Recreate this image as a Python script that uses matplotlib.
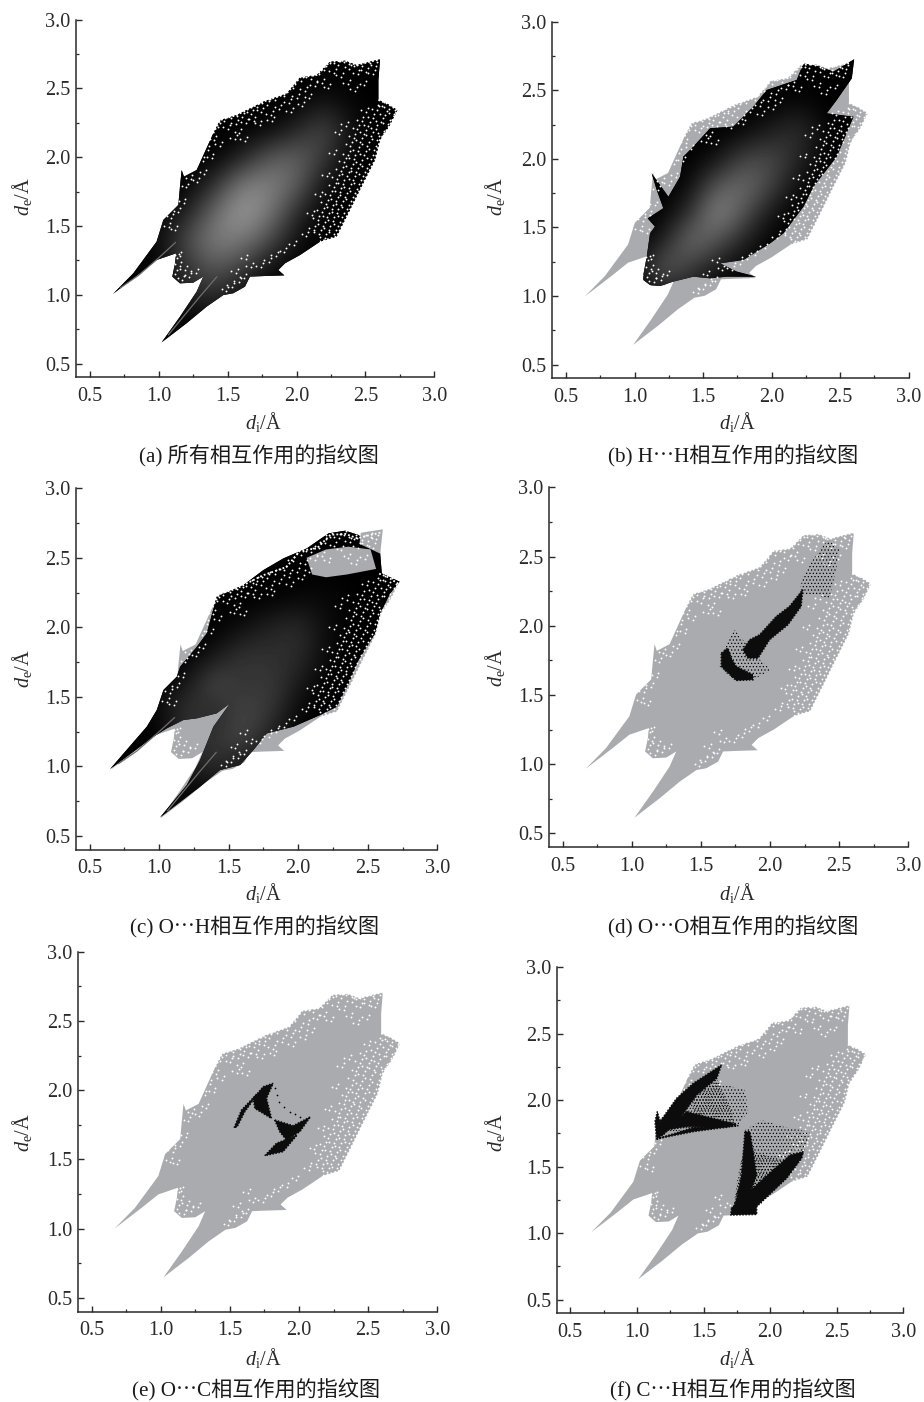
import matplotlib
matplotlib.use("Agg")
import matplotlib.pyplot as plt
from matplotlib.patches import Polygon
from matplotlib.ticker import MultipleLocator
import numpy as np

plt.rcParams['font.family'] = ['Liberation Serif', 'Noto Sans CJK SC']
plt.rcParams['mathtext.fontset'] = 'custom'
plt.rcParams['mathtext.rm'] = 'Liberation Serif'
plt.rcParams['mathtext.it'] = 'Liberation Serif:italic'
plt.rcParams['hatch.linewidth'] = 0.5

W, H = 924, 1402
GRAY = '#a9abae'
INK = '#2a2a2a'

CAPTIONS = ['(a) 所有相互作用的指纹图', '(b) H\u22efH相互作用的指纹图', '(c) O\u22efH相互作用的指纹图',
            '(d) O\u22efO相互作用的指纹图', '(e) O\u22efC相互作用的指纹图', '(f) C\u22efH相互作用的指纹图']
TICKS = [0.5, 1.0, 1.5, 2.0, 2.5, 3.0]

# (di, de) outline of the whole fingerprint
HULL = [(0.666,1.006),(0.814,1.156),(0.983,1.386),(1.032,1.544),(1.141,1.653),(1.153,1.786),(1.165,1.907),
        (1.182,1.859),(1.274,1.907),(1.395,2.174),(1.444,2.27),(1.565,2.307),(1.758,2.404),(1.928,2.464),
        (2.025,2.581),(2.146,2.598),(2.243,2.695),(2.352,2.702),(2.436,2.67),(2.485,2.683),(2.606,2.712),
        (2.594,2.561),(2.594,2.416),(2.654,2.392),(2.732,2.343),(2.678,2.234),(2.606,2.125),(2.57,1.98),
        (2.46,1.762),(2.388,1.616),(2.291,1.423),(2.17,1.386),(2.025,1.289),(1.916,1.229),(1.867,1.18),
        (1.911,1.141),(1.758,1.136),(1.661,1.132),(1.625,1.059),(1.54,1.011),(1.468,0.998),(1.347,0.914),
        (1.201,0.793),(1.02,0.654),(1.153,0.841),(1.274,1.023),(1.322,1.132),(1.25,1.088),(1.153,1.083),
        (1.097,1.132),(1.117,1.229),(1.124,1.301),(0.983,1.253),(0.862,1.156)]
EDGE_TOP = [(1.395,2.174),(1.444,2.27),(1.565,2.307),(1.758,2.404),(1.928,2.464),(2.025,2.581),(2.146,2.598),
            (2.243,2.695),(2.352,2.702),(2.436,2.67),(2.485,2.683),(2.606,2.712)]
EDGE_RIGHT = [(2.594,2.416),(2.654,2.392),(2.732,2.343),(2.678,2.234),(2.606,2.125),(2.57,1.98),(2.46,1.762),
              (2.388,1.616),(2.291,1.423),(2.17,1.386)]
# specks of empty paper inside the cloud, as read around its rim
SPECKS = [(1.43,2.22),(1.47,2.26),(1.525,2.283),(1.503,2.208),(1.56,2.241),(1.604,2.292),(1.632,2.247),(1.583,2.176),
          (1.672,2.317),(1.713,2.362),(1.688,2.266),(1.744,2.331),(1.786,2.382),(1.731,2.238),(1.813,2.304),(1.842,2.416),
          (1.874,2.351),(1.912,2.442),(1.822,2.262),(1.943,2.393),(1.972,2.504),(2.003,2.431),(1.958,2.327),(2.034,2.553),
          (2.062,2.482),(2.041,2.376),(2.103,2.571),(2.133,2.517),(2.092,2.428),(2.164,2.604),(2.202,2.633),(2.183,2.541),
          (2.244,2.682),(2.272,2.613),(2.231,2.503),(2.304,2.672),(2.343,2.691),(2.322,2.584),(2.382,2.642),(2.414,2.667),
          (2.373,2.531),(2.443,2.604),(2.472,2.661),(2.424,2.482),(2.503,2.622),(2.532,2.683),(2.553,2.604),(2.492,2.523),
          (2.574,2.662),(1.402,2.124),(1.443,2.082),(1.552,2.131),(1.624,2.118),(1.353,2.052),(1.318,1.973),(1.383,1.991),
          (2.623,2.372),(2.672,2.353),(2.704,2.312),(2.643,2.304),(2.584,2.342),(2.613,2.253),(2.662,2.241),(2.552,2.284),
          (2.503,2.331),(2.573,2.203),(2.624,2.163),(2.521,2.224),(2.472,2.262),(2.584,2.124),(2.541,2.153),(2.493,2.172),
          (2.441,2.204),(2.563,2.052),(2.512,2.084),(2.463,2.113),(2.414,2.142),(2.543,1.984),(2.492,2.013),(2.443,2.044),
          (2.391,2.083),(2.512,1.922),(2.463,1.953),(2.414,1.984),(2.372,2.013),(2.484,1.864),(2.431,1.892),(2.393,1.924),
          (2.343,1.962),(2.453,1.803),(2.412,1.832),(2.364,1.864),(2.323,1.903),(2.422,1.742),(2.381,1.773),(2.334,1.804),
          (2.292,1.843),(2.393,1.682),(2.352,1.713),(2.313,1.744),(2.272,1.784),(2.364,1.624),(2.323,1.652),(2.284,1.683),
          (2.243,1.722),(2.332,1.564),(2.291,1.593),(2.254,1.624),(2.213,1.662),(2.303,1.502),(2.262,1.533),(2.224,1.564),
          (2.183,1.603),(2.272,1.443),(2.233,1.472),(2.192,1.503),(2.153,1.544),(2.204,1.412),(2.163,1.443),(2.124,1.472),
          (2.31,2.17),(2.36,2.23),(2.27,2.02),(2.22,1.86),(2.17,1.72),(2.11,1.58),(2.07,1.43),(1.98,1.36),(1.91,1.31),
          (1.13,1.27),(1.15,1.21),(1.12,1.15),(1.17,1.11),(1.22,1.13),(1.27,1.16),(1.19,1.18),(1.15,1.28),
          (1.49,1.03),(1.53,1.06),(1.58,1.09),(1.62,1.12),(1.56,1.16),(1.67,1.2),(1.74,1.2),(1.8,1.24),(1.63,1.26),(1.85,1.28),
          (1.07,1.49),(1.09,1.56),(1.14,1.6),(1.18,1.67),(1.2,1.78),(1.23,1.84),(1.28,1.82),(1.33,1.88),(1.12,1.47)]
SPECK_COPIES = [(0, 0), (0.013, 0.029), (-0.034, 0.011)]

SHIFT_A, SHIFT_B, SHIFT_C, SHIFT_D, SHIFT_E, SHIFT_F = (0,0), (-0.03,-0.01), (-0.012,-0.03), (0.0,-0.04), (0.0,-0.006), (-0.01,0.0)

BLACK_B = [(1.064,1.153),(1.089,1.287),(1.113,1.457),(1.149,1.506),(1.096,1.566),(1.21,1.64),(1.162,1.773),
           (1.125,1.894),(1.186,1.809),(1.247,1.724),(1.332,1.87),(1.356,2.016),(1.429,2.089),(1.551,2.223),
           (1.721,2.235),(1.867,2.381),(1.964,2.502),(2.183,2.575),(2.232,2.696),(2.354,2.672),(2.451,2.636),
           (2.602,2.726),(2.585,2.587),(2.475,2.429),(2.402,2.332),(2.597,2.307),(2.475,2.016),(2.305,1.797),
           (2.232,1.651),(2.086,1.457),(1.989,1.384),(1.794,1.263),(1.624,1.238),(1.745,1.178),(1.887,1.141),
           (1.672,1.141),(1.551,1.129),(1.429,1.141),(1.283,1.105),(1.186,1.073),(1.113,1.08),(1.064,1.117)]
BLACK_C = [(.647,.98),(.911,1.285),(.983,1.405),(1.031,1.549),(1.127,1.645),(1.151,1.717),(1.271,1.86),
           (1.342,1.956),(1.414,2.22),(1.606,2.304),(1.75,2.412),(1.894,2.496),(2.062,2.568),(2.218,2.676),
           (2.338,2.695),(2.434,2.664),(2.589,2.532),(2.601,2.388),(2.729,2.328),(2.661,2.244),(2.589,2.1),
           (2.553,1.956),(2.434,1.765),(2.362,1.597),(2.278,1.429),(2.158,1.369),(1.966,1.285),(1.774,1.237),
           (1.678,1.117),(1.582,1.009),(1.438,.973),(1.294,.853),(1.007,.633),(1.199,.865),(1.294,1.045),
           (1.39,1.285),(1.51,1.453),(1.414,1.381),(1.271,1.345),(1.175,1.333),(1.055,1.273),(.959,1.213)]
GAP_C = [(2.06,2.5),(2.2,2.56),(2.36,2.58),(2.52,2.56),(2.56,2.42),(2.35,2.38),(2.2,2.36),(2.1,2.38)]
CORNER_C = [(2.45,2.68),(2.608,2.705),(2.59,2.53),(2.44,2.6)]

D_SPARSE = [[(2.237,2.357),(2.31,2.477),(2.418,2.622),(2.502,2.549),(2.478,2.405),(2.43,2.2),(2.31,2.224),(2.213,2.236)],
            [(1.636,1.706),(1.66,1.826),(1.744,1.971),(1.804,1.899),(1.901,1.778),(2.009,1.682),(1.877,1.61),(1.756,1.598),(1.684,1.658)]]
D_DENSE = [[(1.804,1.826),(1.853,1.899),(1.925,1.935),(2.045,2.067),(2.141,2.14),(2.237,2.26),(2.225,2.14),(2.129,2.007),(1.997,1.899),(1.913,1.766),(1.841,1.766)],
           [(1.648,1.802),(1.696,1.839),(1.72,1.766),(1.756,1.706),(1.877,1.646),(1.877,1.61),(1.756,1.605),(1.684,1.67),(1.648,1.706)]]
E_DENSE = [[(1.531,1.729),(1.584,1.856),(1.693,1.97),(1.669,1.929),(1.608,1.844),(1.553,1.736)],
           [(1.669,1.941),(1.741,2.025),(1.813,2.049),(1.765,1.941),(1.801,1.796),(1.741,1.832),(1.681,1.868)],
           [(1.825,1.784),(1.958,1.743),(2.083,1.808),(2.006,1.7),(1.909,1.64),(1.861,1.7)],
           [(1.753,1.527),(1.837,1.616),(1.986,1.676),(1.885,1.556)]]
E_DOTS_X = [1.825, 1.84, 1.856, 1.895, 1.933, 1.97, 2.006]
E_DOTS_Y = [2.014, 1.965, 1.917, 1.875, 1.84, 1.825, 1.808]
F_SPARSE = [[(1.424,2.013),(1.574,2.138),(1.811,2.076),(1.836,1.913),(1.761,1.813),(1.424,1.8)],
            [(1.811,1.775),(1.937,1.85),(2.099,1.8),(2.299,1.763),(2.249,1.587),(2.124,1.412),(1.899,1.187),(1.899,1.141),(1.704,1.136),(1.749,1.312),(1.799,1.612)]]
F_MID = [[(1.173,1.75),(1.323,1.863),(1.449,2.038),(1.6,2.16),(1.7,1.95),(1.74,1.81),(1.4,1.78)],
         [(1.72,1.17),(1.76,1.44),(1.82,1.72),(1.9,1.6),(2.1,1.55),(2.22,1.6),(2.05,1.42),(1.88,1.2)]]
F_DENSE = [[(1.136,1.838),(1.153,1.913),(1.173,1.838),(1.298,2.013),(1.424,2.126),(1.636,2.264),(1.599,2.163),(1.449,2.038),(1.323,1.863),(1.198,1.738),(1.148,1.708)],
           [(1.223,1.775),(1.373,1.913),(1.749,1.818),(1.674,1.795),(1.373,1.8)],
           [(1.148,1.708),(1.424,1.793),(1.761,1.808),(1.424,1.763)],
           [(1.711,1.187),(1.924,1.387),(2.149,1.587),(2.249,1.612),(2.237,1.562),(2.124,1.412),(1.899,1.199),(1.899,1.141),(1.704,1.136)],
           [(1.811,1.763),(1.849,1.763),(1.899,1.437),(1.799,1.162),(1.736,1.212),(1.786,1.437)]]

# brightness read on a 0.2 grid: columns di = 0.6..2.8, rows de = 0.6..2.8
DENSITY_A = [[0,0,0,0,0,0,0,0,0,0,0,0],
             [0,0,.08,0,0,0,0,0,0,0,0,0],
             [0,0,.08,.10,.20,.02,0,0,0,0,0,0],
             [0,0,0,.20,.35,.25,.05,0,0,0,0,0],
             [0,0,.05,.30,.50,.48,.30,.05,0,0,0,0],
             [0,0,0,.12,.42,.62,.48,.16,0,0,0,0],
             [0,0,0,0,.18,.50,.52,.38,.06,0,0,0],
             [0,0,0,0,0,.12,.35,.40,.22,0,0,0],
             [0,0,0,0,0,0,.02,.14,.30,.05,0,0],
             [0,0,0,0,0,0,0,0,.08,.02,0,0],
             [0,0,0,0,0,0,0,0,0,0,0,0],
             [0,0,0,0,0,0,0,0,0,0,0,0]]
DENSITY_B = [[0,0,0,0,0,0,0,0,0,0,0,0],
             [0,0,0,0,0,0,0,0,0,0,0,0],
             [0,0,0,.03,.08,0,0,0,0,0,0,0],
             [0,0,0,.40,.22,.08,0,0,0,0,0,0],
             [0,0,0,.10,.46,.32,.12,0,0,0,0,0],
             [0,0,0,0,.18,.56,.32,.06,0,0,0,0],
             [0,0,0,0,.03,.36,.44,.26,.03,0,0,0],
             [0,0,0,0,0,.06,.28,.30,.14,0,0,0],
             [0,0,0,0,0,0,.02,.12,.20,.02,0,0],
             [0,0,0,0,0,0,0,0,.04,0,0,0],
             [0,0,0,0,0,0,0,0,0,0,0,0],
             [0,0,0,0,0,0,0,0,0,0,0,0]]
DENSITY_C = [[0,0,0,0,0,0,0,0,0,0,0,0],
             [0,0,.10,0,0,0,0,0,0,0,0,0],
             [0,0,.10,.10,.20,.06,0,0,0,0,0,0],
             [0,0,0,.16,.20,.30,.10,0,0,0,0,0],
             [0,0,.04,.24,.12,.28,.22,.02,0,0,0,0],
             [0,0,0,.08,.32,.18,.24,.10,0,0,0,0],
             [0,0,0,0,.08,.22,.18,.18,.03,0,0,0],
             [0,0,0,0,0,.05,.14,.18,.04,0,0,0],
             [0,0,0,0,0,0,0,.03,.04,0,0,0],
             [0,0,0,0,0,0,0,0,0,0,0,0],
             [0,0,0,0,0,0,0,0,0,0,0,0],
             [0,0,0,0,0,0,0,0,0,0,0,0]]
SPIKE_UP_X = [0.72, 0.85, 1.0, 1.12]
SPIKE_UP_Y = [1.05, 1.14, 1.27, 1.38]
SPIKE_DN_X = [1.07, 1.16, 1.3, 1.42]
SPIKE_DN_Y = [0.71, 0.82, 0.99, 1.13]

# axes box in reference pixels: left, right, top, bottom
BOXES = [(76.3,434.3,19.7,377.3),(552.3,908.7,21.7,378.3),(75.7,437.3,488.3,849.7),
         (548.7,908.3,487.3,847.3),(77.7,437.3,951.7,1311.7),(557.0,903.3,967.0,1313.0)]
CAP_XY = [(259,456),(733,456),(255,927),(733,927),(256,1390),(733,1390)]
XL_XY = [(263,422),(737,422),(263,893),(737,893),(263,1358),(737,1358)]
YL_XY = [(22,197),(495,197),(22,669),(495,668),(22,1133),(495,1133)]

fig = plt.figure(figsize=(W/100, H/100), dpi=100, facecolor='white')


def moved(points, shift):
    return np.array(points, float) + np.array(shift)


def cloud(ax, shift, base):
    hull = Polygon(moved(HULL, shift), closed=True, fc=base, ec='none', zorder=1)
    ax.add_patch(hull)
    return hull


def specks(ax, shift, colour='white', size=1.8):
    for copy in SPECK_COPIES:
        pts = moved(moved(SPECKS, shift), copy)
        ax.scatter(pts[:, 0], pts[:, 1], s=size, c=colour, lw=0, zorder=8)
    for pts in (EDGE_TOP, EDGE_RIGHT):
        edge = moved(pts, shift)
        ax.plot(edge[:, 0], edge[:, 1], color=colour, lw=1.3, ls=(0, (1, 1.2)), zorder=8)


def density(ax, grid, clip, z=3):
    im = ax.imshow(np.array(grid), extent=(0.5, 2.9, 0.5, 2.9), origin='lower', cmap='gray', vmin=0, vmax=1,
                   interpolation='bicubic', aspect='auto', zorder=z)
    im.set_clip_path(clip)


def pieces(ax, polys, hatch=None):
    for p in polys:
        if hatch:
            ax.add_patch(Polygon(p, closed=True, fc='none', ec='black', lw=0, hatch=hatch, zorder=9))
        else:
            ax.add_patch(Polygon(p, closed=True, fc='#0c0c0c', ec='#0c0c0c', lw=1.1, ls=(0, (1, 1)), zorder=9))


for i, (l, r, t, b) in enumerate(BOXES):
    ax = fig.add_axes([l/W, 1-b/H, (r-l)/W, (b-t)/H])
    if i == 0:
        hull = cloud(ax, SHIFT_A, '#050505')
        density(ax, DENSITY_A, hull)
        specks(ax, SHIFT_A)
        ax.plot(SPIKE_UP_X, SPIKE_UP_Y, color='#6e6e6e', lw=0.9, zorder=4)
        ax.plot(SPIKE_DN_X, SPIKE_DN_Y, color='#6e6e6e', lw=0.9, zorder=4)
    elif i == 1:
        cloud(ax, SHIFT_B, GRAY)
        blk = Polygon(BLACK_B, closed=True, fc='#050505', ec='none', zorder=2)
        ax.add_patch(blk)
        density(ax, DENSITY_B, blk)
        specks(ax, SHIFT_B)
    elif i == 2:
        cloud(ax, SHIFT_C, GRAY)
        blk = Polygon(BLACK_C, closed=True, fc='#050505', ec='none', zorder=2)
        ax.add_patch(blk)
        density(ax, DENSITY_C, blk)
        ax.add_patch(Polygon(GAP_C, closed=True, fc=GRAY, ec='none', zorder=4))
        ax.add_patch(Polygon(CORNER_C, closed=True, fc=GRAY, ec='none', zorder=4))
        specks(ax, SHIFT_C)
        ax.plot(np.array(SPIKE_UP_X)-0.01, np.array(SPIKE_UP_Y)-0.03, color='#6e6e6e', lw=0.9, zorder=4)
        ax.plot(np.array(SPIKE_DN_X)-0.01, np.array(SPIKE_DN_Y)-0.03, color='#6e6e6e', lw=0.9, zorder=4)
    elif i == 3:
        cloud(ax, SHIFT_D, GRAY)
        specks(ax, SHIFT_D)
        pieces(ax, D_SPARSE, '.....')
        pieces(ax, D_DENSE)
    elif i == 4:
        cloud(ax, SHIFT_E, GRAY)
        specks(ax, SHIFT_E)
        pieces(ax, E_DENSE)
        ax.scatter(E_DOTS_X, E_DOTS_Y, s=1.5, c='black', lw=0, zorder=9)
    else:
        cloud(ax, SHIFT_F, GRAY)
        specks(ax, SHIFT_F)
        pieces(ax, F_SPARSE, '.....')
        pieces(ax, F_MID, '......')
        pieces(ax, F_DENSE)

    ax.set_xlim(0.4, 3.0)
    ax.set_ylim(0.4, 3.0)
    ax.set_xticks(TICKS)
    ax.set_yticks(TICKS)
    ax.set_xticklabels(['%.1f' % v for v in TICKS])
    ax.set_yticklabels(['%.1f' % v for v in TICKS])
    ax.xaxis.set_minor_locator(MultipleLocator(0.25))
    ax.yaxis.set_minor_locator(MultipleLocator(0.25))
    ax.tick_params(which='major', direction='in', length=4.5, width=1.0, color=INK, labelsize=14.6, labelcolor=INK)
    ax.tick_params(which='minor', direction='in', length=2.3, width=0.9, color=INK)
    ax.tick_params(axis='x', which='major', pad=7)
    ax.tick_params(axis='y', which='major', pad=4)
    for s in ('top', 'right'):
        ax.spines[s].set_visible(False)
    for s in ('left', 'bottom'):
        ax.spines[s].set_linewidth(1.1)
        ax.spines[s].set_color(INK)
    ax.patch.set_alpha(0)

    fig.text(CAP_XY[i][0]/W, 1-CAP_XY[i][1]/H, CAPTIONS[i], ha='center', va='center', fontsize=15.2, color='#1a1a1a')
    fig.text(XL_XY[i][0]/W, 1-XL_XY[i][1]/H, r'$\mathit{d}_{\mathrm{i}}$/Å', ha='center', va='center', fontsize=14.6, color=INK)
    fig.text(YL_XY[i][0]/W, 1-YL_XY[i][1]/H, r'$\mathit{d}_{\mathrm{e}}$/Å', ha='center', va='center', rotation=90, fontsize=14.6, color=INK)

fig.savefig('out.png', dpi=100, facecolor='white')
